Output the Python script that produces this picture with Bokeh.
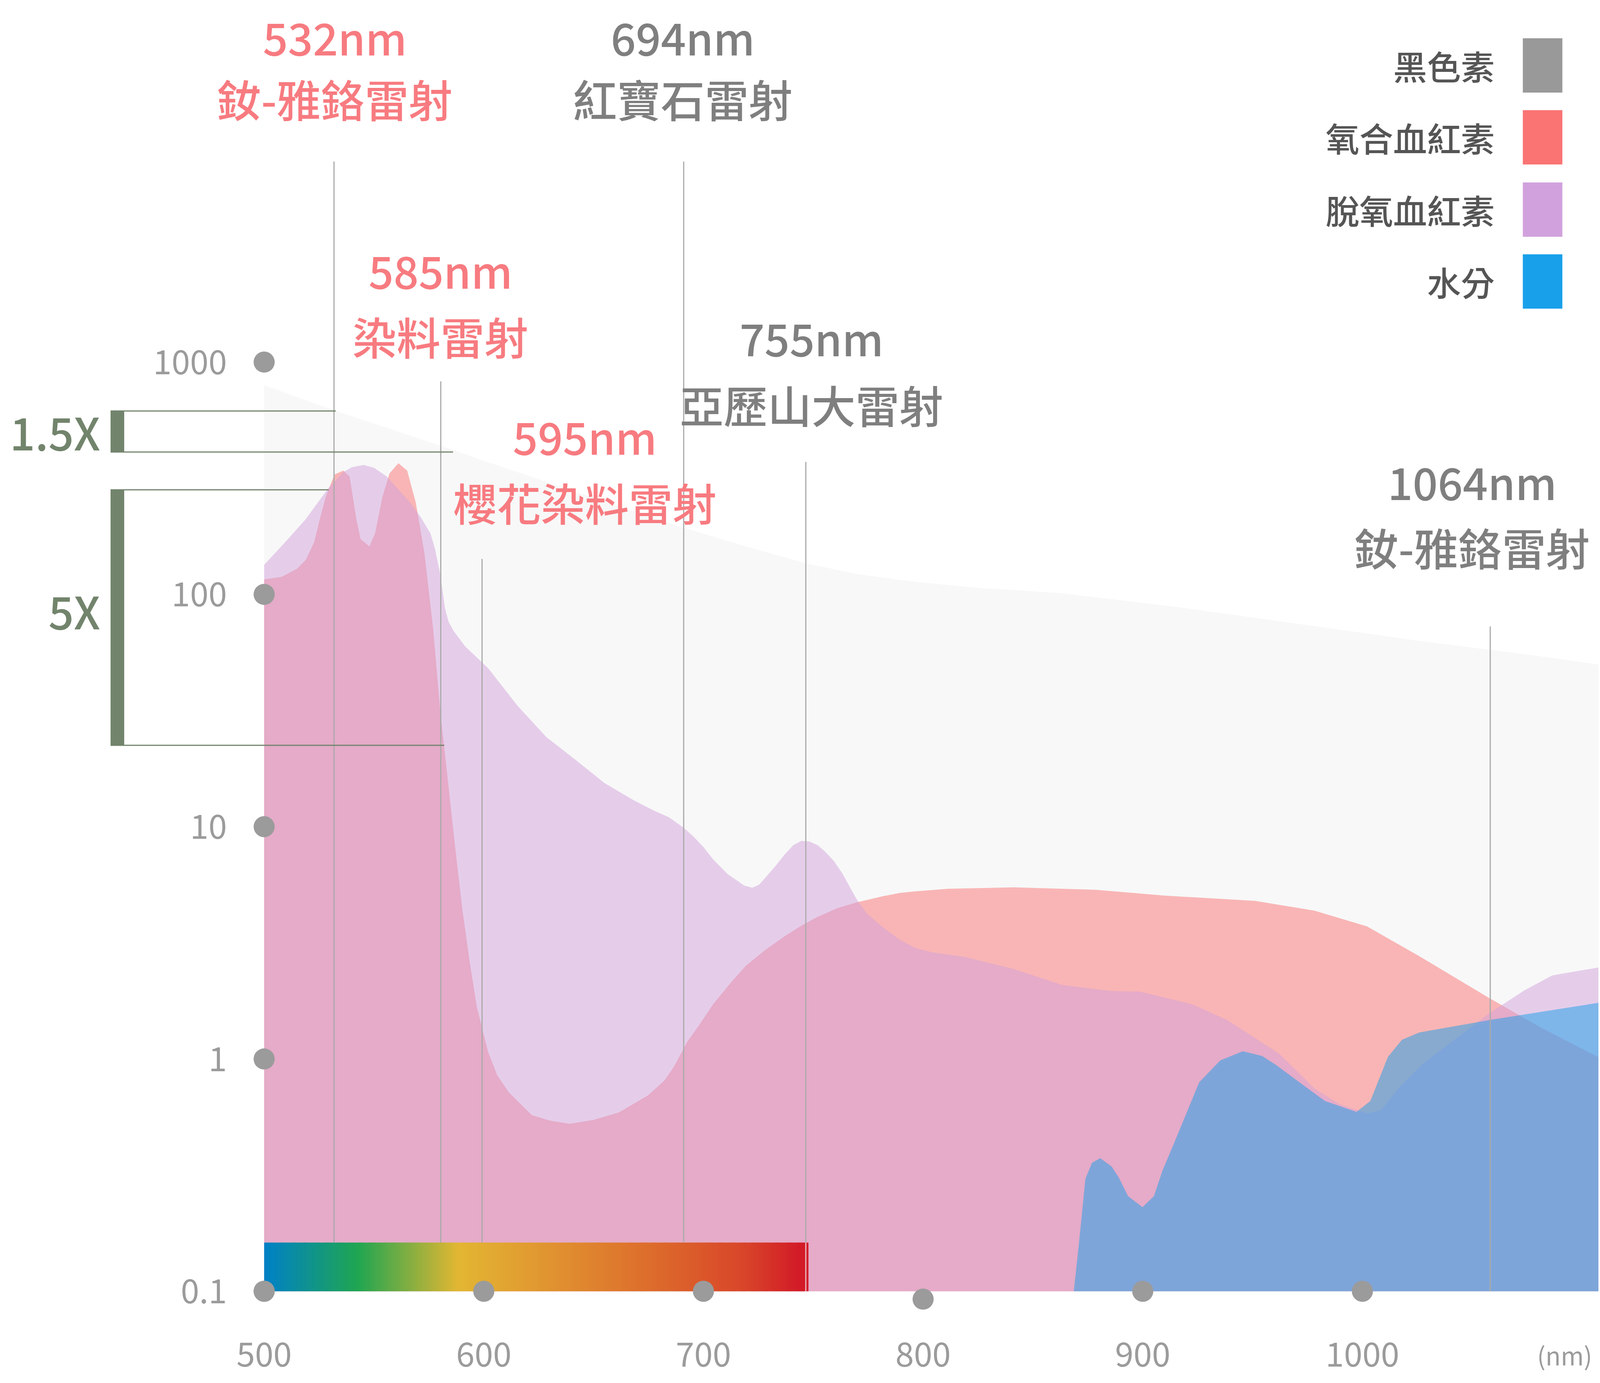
import numpy as np
from bokeh.plotting import figure
from bokeh.models import Range1d
from bokeh.core.properties import value
from bokeh.embed import file_html
from bokeh.resources import INLINE

FONT = "Noto Sans CJK TC"
FONT_MED = '"Noto Sans CJK TC Medium", "Noto Sans CJK TC"'

# ---------------- data ----------------
x_ticks = [500, 600, 700, 800, 900, 1000]
x_tick_labels = ["500", "600", "700", "800", "900", "1000"]
x_tick_dot_vals = [0.1, 0.1, 0.1, 0.0925, 0.1, 0.1]
y_ticks = [1000, 100, 10, 1, 0.1]
y_tick_labels = ["1000", "100", "10", "1", "0.1"]

melanin_nm = [500, 532, 586, 600, 690.6, 717.3, 746.6, 770.5, 797.2, 823.8, 863.8, 917, 970.3, 1023.6, 1082, 1110]
melanin_abs = [796, 619, 419, 376, 194, 163, 136, 122, 113, 107, 101, 87.9, 74.8, 63.5, 54.0, 49.5]

oxy_nm = [500, 508, 515, 519, 522.8, 525.5, 528.1, 532, 536, 538.9, 542, 543.9, 547.9, 550.5,
          553.9, 557.1, 561.1, 565.1, 569, 573, 576.9, 580.3, 583.5, 586.9, 590.2, 593.5, 596.8,
          602, 606.1, 611.4, 621.9, 630, 639.1, 650, 661.6, 674.8, 682.1, 686.6, 692.5, 698.5,
          704.4, 711.9, 719.3, 728.2, 737.1, 744.6, 752, 761, 769.8, 781.7, 789.2, 796.6,
          811.4, 841.2, 878.4, 910, 951.2, 978.2, 1002.1, 1025.9, 1057.7, 1081.6, 1110]
oxy_abs = [116, 119, 129, 141, 168, 214, 264, 328, 341, 322, 210, 173, 161, 183,
           264, 332, 367, 341, 249, 150, 71.6, 30.5, 16.3, 8.26, 4.43, 2.65, 1.68,
           1.07, 0.851, 0.718, 0.573, 0.543, 0.526, 0.547, 0.589, 0.698, 0.805, 0.927, 1.18, 1.42,
           1.72, 2.10, 2.52, 2.95, 3.38, 3.75, 4.09, 4.46, 4.72, 5.02, 5.18, 5.27,
           5.40, 5.48, 5.35, 5.05, 4.79, 4.35, 3.72, 2.77, 1.83, 1.36, 0.99]

deoxy_nm = [500, 509.6, 518.8, 529.4, 536, 540, 545.3, 550, 555.8, 566.4, 571, 575.7, 577.7,
            579.9, 581.2, 582.3, 584, 586.3, 591.5, 602, 615.3, 628.5, 641.7, 655, 668.2, 677.7,
            684.4, 691.2, 695.5, 700, 704.4, 711.1, 718.6, 722.2, 725.3, 732.7, 737.1, 740.9,
            744.6, 748.3, 752, 755.7, 759.4, 763.2, 769.8, 774.3, 781.7, 789.2, 796.6, 804,
            818.9, 841.2, 863.5, 885.8, 898.7, 922.5, 938.5, 962.3, 978.2, 989.4, 1002.1,
            1008.4, 1016.3, 1027.5, 1057.7, 1073.6, 1086.4, 1110]
deoxy_abs = [134, 168, 210, 288, 336, 353, 361, 351, 322, 249, 217, 183, 158,
             126, 104, 87.3, 76, 69.5, 59.7, 48.1, 33.2, 24.3, 19.4, 15.4, 13.0, 11.7,
             10.96, 9.86, 9.06, 8.17, 7.24, 6.24, 5.58, 5.46, 5.62, 6.75, 7.62, 8.32,
             8.69, 8.63, 8.32, 7.76, 7.11, 6.30, 4.86, 4.24, 3.69, 3.27, 3.00, 2.88,
             2.75, 2.44, 2.08, 1.96, 1.95, 1.72, 1.47, 1.05, 0.746, 0.640, 0.583,
             0.601, 0.746, 0.955, 1.57, 1.97, 2.29, 2.50]

water_nm = [868.6, 870.9, 873.9, 876.9, 880.6, 885.8, 889, 893.3, 899.9, 905.1, 909, 914.6,
            925.7, 935.3, 945.6, 954.4, 960.7, 970.3, 983, 997.3, 1003.6, 1011.6, 1018, 1025.9,
            1057.7, 1110]
water_abs = [0.1, 0.159, 0.305, 0.357, 0.374, 0.345, 0.31, 0.257, 0.230, 0.257, 0.331, 0.442,
             0.794, 0.986, 1.08, 1.03, 0.942, 0.807, 0.659, 0.592, 0.659, 1.02, 1.21, 1.30,
             1.47, 1.76]

series_names = ["黑色素", "氧合血紅素", "脫氧血紅素", "水分"]
series_colors = ["#999999", "#FA7474", "#D1A1DD", "#18A0EA"]

laser_wavelengths = ["532nm", "585nm", "595nm", "694nm", "755nm", "1064nm"]
laser_types = ["釹-雅鉻雷射", "染料雷射", "櫻花染料雷射", "紅寶石雷射", "亞歷山大雷射", "釹-雅鉻雷射"]
laser_line_nm = [531.8, 580.4, 599.2, 691.0, 746.6, 1058.2]
laser_line_top = [7300, 826, 142, 7300, 372, 72.8]
laser_line_bottom = [0.162, 0.162, 0.162, 0.162, 0.1, 0.1]

visible_band_nm = [500, 747.5]
visible_band_abs = [0.1, 0.162]

bracket_labels = ["1.5X", "5X"]
bracket_high = [616, 282]
bracket_low = [410, 22.4]
bracket_high_end_nm = [532.6, 529.4]
bracket_low_end_nm = [586.0, 582.0]

# ---------------- layout / style ----------------
# The browser delivers a 4096 x 3540 CSS-px viewport; the figure fills it.
VW, VH = 4096, 3540
W, H = VW - 4, VH - 4
SX = VW / 5625.0      # CSS px per reference px, horizontally
SY = 1.0              # CSS px per reference px, vertically
TXT = 0.76            # text scale (between SX and SY)


def nm_at(X):
    return 500 + (X - 928) / 7.722


def val_at(Y):
    return 10 ** (3 - (Y - 926.3) / 594.6)


def fs(px):
    return value("%.1fpx" % (px * TXT))


SALMON = "#F77B80"
GREY_LABEL = "#7F7F7F"
TICK = "#9B9B9B"
GREEN = "#72846C"
LINE = "#AAAAAA"

p = figure(width=W, height=H,
           x_range=Range1d(nm_at(0), nm_at(W / SX)),
           y_range=Range1d(val_at(H / SY), val_at(0)),
           y_axis_type="log", output_backend="svg", toolbar_location=None,
           min_border=0, x_axis_location=None, y_axis_location=None,
           outline_line_color=None, background_fill_color="white",
           border_fill_color="white")
p.grid.visible = False

BASE = 0.1


def area(xs, ys, color, alpha):
    px = list(xs) + [xs[-1], xs[0]]
    py = list(ys) + [BASE, BASE]
    p.patch(px, py, fill_color=color, fill_alpha=alpha, line_color=None)


area(melanin_nm, melanin_abs, "#F8F8F8", 1.0)
area(oxy_nm, oxy_abs, "#FA7272", 0.5)
area(deoxy_nm, deoxy_abs, "#D2A2DB", 0.5)
area(water_nm, water_abs, "#18A0EA", 0.5)

# laser marker lines
p.segment(x0=laser_line_nm, x1=laser_line_nm, y0=laser_line_top, y1=laser_line_bottom,
          line_color=LINE, line_width=3)

# visible-spectrum band drawn as a gradient of thin cells
stops_nm = [500, 542.6, 588.3, 641.4, 679.4, 717.4, 744, 747.5]
stops_col = ["#0081C8", "#20A652", "#E3B733", "#E08A30", "#DD6A2C", "#D9472A", "#D31B28", "#D31B28"]
rgb = np.array([[int(c[i:i + 2], 16) for i in (1, 3, 5)] for c in stops_col], dtype=float)
edges = np.linspace(visible_band_nm[0], visible_band_nm[1], 241)
mids = (edges[:-1] + edges[1:]) / 2
cols = []
for m in mids:
    r = np.interp(m, stops_nm, rgb[:, 0])
    g = np.interp(m, stops_nm, rgb[:, 1])
    b = np.interp(m, stops_nm, rgb[:, 2])
    cols.append("#%02x%02x%02x" % (int(r), int(g), int(b)))
p.quad(left=edges[:-1], right=edges[1:] + 0.3, bottom=visible_band_abs[0], top=visible_band_abs[1],
       fill_color=cols, line_color=None)
p.segment(x0=[laser_line_nm[4]], x1=[laser_line_nm[4]], y0=[visible_band_abs[1]], y1=[visible_band_abs[0]],
          line_color="#E9B9BF", line_width=3)

# tick dots
DOT = 54
p.scatter([500] * len(y_ticks), y_ticks, size=DOT, color=TICK, line_color=None)
p.scatter(x_ticks, x_tick_dot_vals, size=DOT, color=TICK, line_color=None)

# tick labels
p.text(x=[nm_at(797)] * len(y_ticks), y=y_ticks, text=y_tick_labels, text_font=value(FONT),
       text_font_size=fs(112), text_color=TICK, text_align="right", text_baseline="middle")
p.text(x=x_ticks, y=[val_at(3466)] * len(x_ticks), text=x_tick_labels, text_font=value(FONT),
       text_font_size=fs(112), text_color=TICK, text_align="center", text_baseline="middle")
p.text(x=[nm_at(5500)], y=[val_at(3466)], text=["(nm)"], text_font=value(FONT),
       text_font_size=fs(84), text_color=TICK, text_align="center", text_baseline="middle")

# laser labels
label_nm = [532.2, 580.3, 646.0, 690.6, 749.2, nm_at(5175)]
label_y1 = [val_at(92), val_at(689), val_at(1114), val_at(92), val_at(862), val_at(1230)]
label_y2 = [val_at(250), val_at(858), val_at(1283), val_at(250), val_at(1033), val_at(1398)]
label_colors = [SALMON, SALMON, SALMON, GREY_LABEL, GREY_LABEL, GREY_LABEL]
p.text(x=label_nm, y=label_y1, text=laser_wavelengths, text_font=value(FONT_MED),
       text_font_size=fs(148), text_color=label_colors, text_align="center",
       text_baseline="middle")
p.text(x=label_nm, y=label_y2, text=laser_types, text_font=value(FONT_MED),
       text_font_size=fs(148), text_color=label_colors, text_align="center",
       text_baseline="middle")

# brackets
bx0 = nm_at(388)
bx1 = nm_at(436)
p.quad(left=[bx0] * 2, right=[bx1] * 2, bottom=bracket_low, top=bracket_high,
       fill_color=GREEN, line_color=None)
p.segment(x0=[bx0] * 2, x1=bracket_high_end_nm, y0=bracket_high, y1=bracket_high,
          line_color=GREEN, line_width=3)
p.segment(x0=[bx0] * 2, x1=bracket_low_end_nm, y0=bracket_low, y1=bracket_low,
          line_color=GREEN, line_width=3)
p.text(x=[nm_at(352)] * 2, y=[val_at(1103), val_at(1561)], text=bracket_labels,
       text_font=value(FONT_MED), text_font_size=fs(150), text_color=GREEN,
       text_align="right", text_baseline="middle")

# legend
sw_left, sw_right = nm_at(5353), nm_at(5492)
sw_centers = [167, 351, 536, 720]
p.quad(left=[sw_left] * 4, right=[sw_right] * 4,
       top=[val_at(c - 69.5) for c in sw_centers], bottom=[val_at(c + 69.5) for c in sw_centers],
       fill_color=series_colors, line_color=None)
p.text(x=[nm_at(5254)] * 4, y=[val_at(c) for c in sw_centers], text=series_names,
       text_font=value(FONT_MED), text_font_size=fs(114), text_color="#555555",
       text_align="right", text_baseline="middle")

open("out.html", "w").write(file_html(p, INLINE))
